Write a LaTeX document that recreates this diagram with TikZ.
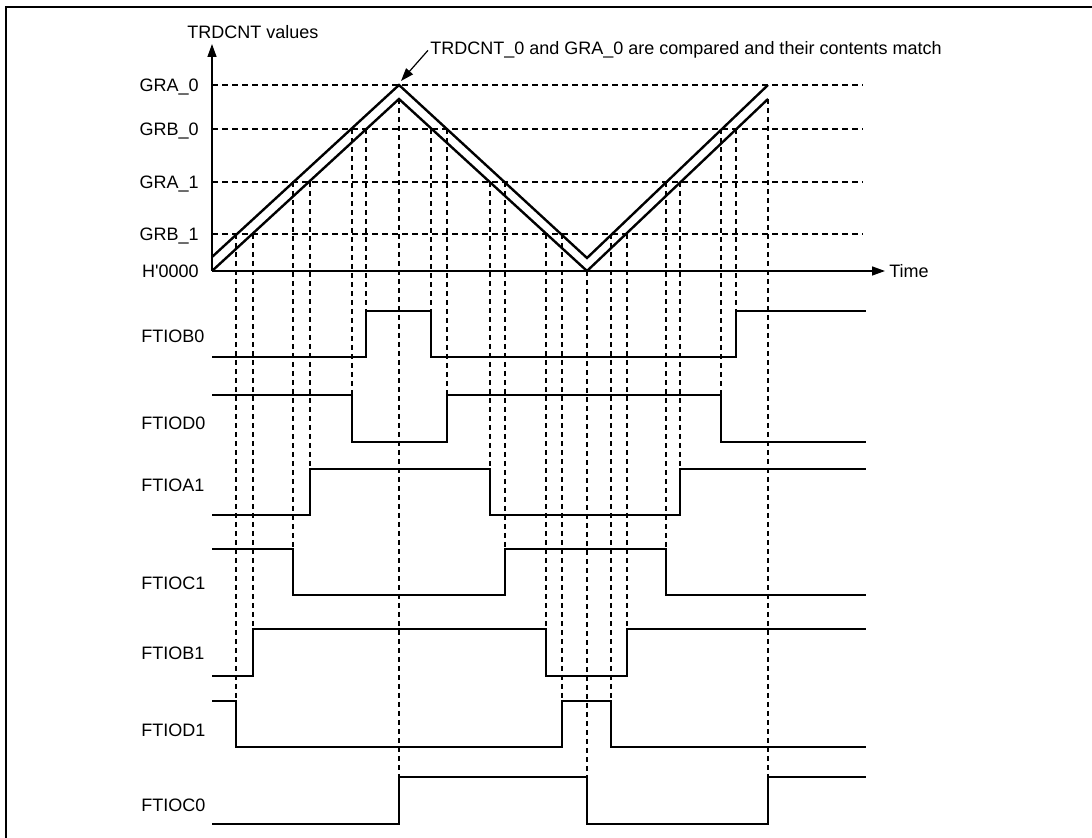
\documentclass[tikz,border=0pt]{standalone}
\usepackage{fontspec}
\setmainfont{Liberation Sans}
\usetikzlibrary{arrows.meta}

\begin{document}
\begin{tikzpicture}[x=0.5pt,y=-0.5pt,>={Triangle[length=6.5pt,width=4.5pt]},
  every node/.style={font=\fontsize{9}{11}\selectfont,inner sep=0pt},
  wave/.style={line width=1.1pt,line join=miter},
  count/.style={line width=1.2pt,line join=miter},
  guide/.style={line width=0.55pt,dash pattern=on 2.5pt off 2pt},
  level/.style={line width=0.55pt,dash pattern=on 3pt off 2pt}]
\useasboundingbox (0,0) rectangle (1092,838);
\draw[line width=0.9pt] (6,838) -- (6,7) -- (1092,7);

% axes
\coordinate (o) at (212,271);
\coordinate (ytop) at (212,44);
\coordinate (xend) at (885,271);
\draw[line width=0.7pt,->] (o) -- (ytop);
\draw[line width=0.7pt,->] (o) -- (xend);
\node[anchor=base west] (yname) at (187,39) {TRDCNT values};
\node[anchor=base west] (time) at (889,277.5) {Time};

% compare levels
\draw[level] (212,85) -- (863,85);
\draw[level] (212,129) -- (863,129);
\draw[level] (212,182) -- (863,182);
\draw[level] (212,234) -- (863,234);
\node[anchor=base east] (gra0) at (199,91.5) {GRA\_0};
\node[anchor=base east] (grb0) at (199,135.5) {GRB\_0};
\node[anchor=base east] (gra1) at (199,188.5) {GRA\_1};
\node[anchor=base east] (grb1) at (199,240.5) {GRB\_1};
\node[anchor=base east] (zero) at (199,277.5) {H\textquotesingle 0000};

% counter values
\coordinate (apex) at (399,85);
\draw[count] (212,257) -- (apex) -- (587,258) -- (768,85);
\draw[count] (212,271) -- (399,99) -- (587,271) -- (768,99);
\node[anchor=base west] (note) at (430,55) {TRDCNT\_0 and GRA\_0 are compared and their contents match};
\draw[line width=0.6pt,->] ([xshift=-1pt]note.west) -- ([xshift=1pt,yshift=2pt]apex);

% compare match instants
\draw[guide] (236,234) -- (236,701) (253,234) -- (253,629)
  (293,182) -- (293,549) (310,182) -- (310,469)
  (352,129) -- (352,395) (366,129) -- (366,311)
  (399,99) -- (399,777)
  (431,129) -- (431,311) (447,129) -- (447,395)
  (490,182) -- (490,469) (505,182) -- (505,549)
  (546,234) -- (546,629) (562,234) -- (562,701)
  (587,271) -- (587,777)
  (611,234) -- (611,701) (627,234) -- (627,629)
  (666,182) -- (666,549) (680,182) -- (680,469)
  (721,129) -- (721,395) (736,129) -- (736,311)
  (768,99) -- (768,777);

% output pins
\node[anchor=base west] (ftiob0) at (141,343) {FTIOB0};
\node[anchor=base west] (ftiod0) at (141,430) {FTIOD0};
\node[anchor=base west] (ftioa1) at (141,491.5) {FTIOA1};
\node[anchor=base west] (ftioc1) at (141,590) {FTIOC1};
\node[anchor=base west] (ftiob1) at (141,659.5) {FTIOB1};
\node[anchor=base west] (ftiod1) at (141,736.5) {FTIOD1};
\node[anchor=base west] (ftioc0) at (141,811.5) {FTIOC0};
\draw[wave] (212,357) -| (366,311) -| (431,357) -| (736,311) -- (866,311);
\draw[wave] (212,395) -| (352,442) -| (447,395) -| (721,442) -- (866,442);
\draw[wave] (212,515) -| (310,469) -| (490,515) -| (680,469) -- (866,469);
\draw[wave] (212,549) -| (293,595) -| (505,549) -| (666,595) -- (866,595);
\draw[wave] (212,676) -| (253,629) -| (546,676) -| (627,629) -- (866,629);
\draw[wave] (212,701) -| (236,747) -| (562,701) -| (611,747) -- (866,747);
\draw[wave] (212,824) -| (399,777) -| (587,824) -| (768,777) -- (866,777);
\end{tikzpicture}
\end{document}
